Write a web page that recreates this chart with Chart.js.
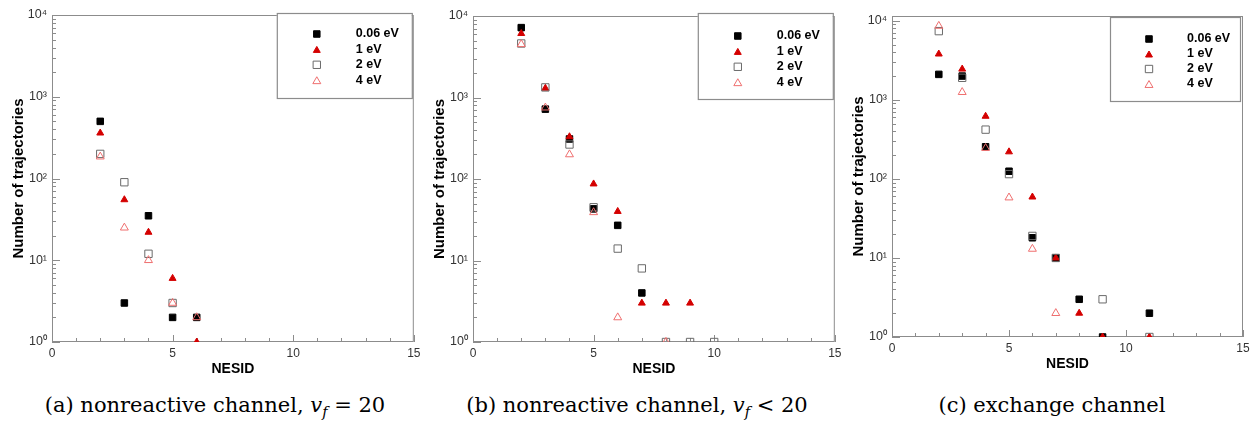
<!DOCTYPE html>
<html lang="en">
<head>
    <meta charset="UTF-8">
    <title>NESID distributions</title>
    <script src="https://cdn.jsdelivr.net/npm/chart.js"></script>
    <style>
        body { margin: 0; background: #fff; width: 1256px; height: 422px; position: relative; overflow: hidden; }
        .panel { position: absolute; top: 0; }
        .caption {
            position: absolute; top: 394px; width: 460px; text-align: center;
            font-family: "DejaVu Serif", serif; font-size: 21px; line-height: 22px; color: #000;
            white-space: nowrap;
        }
        .caption sub { font-size: 14.5px; line-height: 0; }
    </style>
</head>
<body>
    <div class="panel" style="left:0px"><canvas id="chartA" width="420" height="380"></canvas></div>
    <div class="panel" style="left:421px"><canvas id="chartB" width="420" height="380"></canvas></div>
    <div class="panel" style="left:840px"><canvas id="chartC" width="416" height="375"></canvas></div>

    <div class="caption" style="left:-15px">(a) nonreactive channel, <i>v</i><sub><i>f</i></sub> = 20</div>
    <div class="caption" style="left:407px">(b) nonreactive channel, <i>v</i><sub><i>f</i></sub> &lt; 20</div>
    <div class="caption" style="left:822px">(c) exchange channel</div>

    <script>
        // series labels (collision energies)
        const energyLabels = ["0.06 eV", "1 eV", "2 eV", "4 eV"];

        // axis ticks
        const xTickValues = [0, 5, 10, 15];
        const yTickValues = [1, 10, 100, 1000, 10000];
        const yTickText = ["10\u2070", "10\u00b9", "10\u00b2", "10\u00b3", "10\u2074"];

        // (a) nonreactive channel, vf = 20
        const aX006 = [2, 3, 4, 5, 6];
        const aY006 = [500, 3, 35, 2, 2];
        const aX1 = [2, 3, 4, 5, 6];
        const aY1 = [360, 55, 22, 6, 1];
        const aX2 = [2, 3, 4, 5];
        const aY2 = [200, 90, 12, 3];
        const aX4 = [2, 3, 4, 5, 6];
        const aY4 = [185, 25, 10, 3, 2];

        // (b) nonreactive channel, vf < 20
        const bX006 = [2, 3, 4, 5, 6, 7];
        const bY006 = [7200, 720, 310, 43, 27, 4];
        const bX1 = [2, 3, 4, 5, 6, 7, 8, 9];
        const bY1 = [6100, 1300, 330, 87, 40, 3, 3, 3];
        const bX2 = [2, 3, 4, 5, 6, 7, 8, 9, 10];
        const bY2 = [4600, 1330, 265, 45, 14, 8, 1, 1, 1];
        const bX4 = [2, 3, 4, 5, 6, 8];
        const bY4 = [4500, 750, 200, 39, 2, 1];

        // (c) exchange channel
        const cX006 = [2, 3, 4, 5, 6, 7, 8, 9, 11];
        const cY006 = [2100, 2000, 255, 125, 18, 10, 3, 1, 2];
        const cX1 = [2, 3, 4, 5, 6, 7, 8, 9, 11];
        const cY1 = [3800, 2450, 620, 220, 59, 10, 2, 1, 1];
        const cX2 = [2, 3, 4, 5, 6, 7, 9, 11];
        const cY2 = [7400, 1900, 420, 115, 19, 10, 3, 1];
        const cX4 = [2, 3, 4, 5, 6, 7];
        const cY4 = [8600, 1250, 245, 58, 13, 2];

        const FONT = "'Liberation Sans', Arial, sans-serif";

        // marker look for each energy
        const markers = [
            { pointStyle: "rect", pointRadius: 4.6, backgroundColor: "#000000", borderColor: "#000000", borderWidth: 1, order: 3 },
            { pointStyle: "triangle", pointRadius: 4.0, backgroundColor: "#d40000", borderColor: "#d40000", borderWidth: 1, order: 2 },
            { pointStyle: "rect", pointRadius: 5.2, backgroundColor: "rgba(0,0,0,0)", borderColor: "#6a6a6a", borderWidth: 1, order: 1 },
            { pointStyle: "triangle", pointRadius: 4.6, backgroundColor: "rgba(0,0,0,0)", borderColor: "#ef6f6f", borderWidth: 1, order: 0 }
        ];

        function pairs(xs, ys) {
            return xs.map((x, i) => ({ x: x, y: ys[i] }));
        }

        // frame with inward tick marks, drawn from the scales
        const framePlugin = {
            id: "frame",
            beforeDatasetsDraw(chart) {
                const { ctx, chartArea: a, scales: { x, y } } = chart;
                ctx.save();
                ctx.strokeStyle = "#8c8c8c";
                ctx.lineWidth = 1;
                ctx.strokeRect(a.left + 0.5, a.top + 0.5, a.right - a.left - 1, a.bottom - a.top - 1);
                ctx.beginPath();
                for (let v = x.min; v <= x.max; v++) {
                    const px = Math.round(x.getPixelForValue(v)) + 0.5;
                    const len = v % 5 === 0 ? 7 : 4;
                    ctx.moveTo(px, a.bottom);
                    ctx.lineTo(px, a.bottom - len);
                }
                for (let d = 1; d <= y.max; d *= 10) {
                    for (let m = 1; m < 10; m++) {
                        const v = d * m;
                        if (v > y.max) break;
                        const py = Math.round(y.getPixelForValue(v)) + 0.5;
                        const len = m === 1 ? 8 : 4;
                        ctx.moveTo(a.left, py);
                        ctx.lineTo(a.left + len, py);
                    }
                }
                ctx.stroke();
                ctx.restore();
            }
        };

        // boxed legend in the upper right corner
        const boxLegendPlugin = {
            id: "boxLegend",
            afterDraw(chart, args, opts) {
                const { ctx, chartArea: a } = chart;
                const left = a.right - opts.dx - opts.w;
                const top = a.top + opts.dy;
                ctx.save();
                ctx.strokeStyle = "#8c8c8c";
                ctx.lineWidth = 1.2;
                ctx.fillStyle = "#ffffff";
                ctx.fillRect(left, top, opts.w, opts.h);
                ctx.strokeRect(left + 0.5, top + 0.5, opts.w, opts.h);
                ctx.font = "bold 12.5px " + FONT;
                ctx.textBaseline = "middle";
                chart.data.datasets.forEach((ds, i) => {
                    const yy = top + opts.row0 + i * opts.rowGap;
                    ctx.fillStyle = ds.backgroundColor;
                    ctx.strokeStyle = ds.borderColor;
                    ctx.lineWidth = ds.borderWidth;
                    const r = ds.pointRadius;
                    const off = ds.pointStyle === "triangle" ? r / 4 : 0;
                    Chart.helpers.drawPoint(ctx, { pointStyle: ds.pointStyle, radius: r, rotation: 0, borderWidth: ds.borderWidth }, left + opts.markX, yy + off);
                    ctx.fillStyle = "#000000";
                    ctx.fillText(ds.label, left + opts.textX, yy);
                });
                ctx.restore();
            }
        };

        function makeChart(id, series, pad, yMax, legendBox) {
            const datasets = series.map((s, i) => Object.assign({
                label: energyLabels[i],
                data: pairs(s[0], s[1])
            }, markers[i]));

            return new Chart(document.getElementById(id), {
                type: "scatter",
                data: { datasets: datasets },
                options: {
                    responsive: false,
                    animation: false,
                    devicePixelRatio: 1,
                    layout: { padding: pad },
                    plugins: {
                        legend: { display: false },
                        tooltip: { enabled: false },
                        boxLegend: legendBox
                    },
                    scales: {
                        x: {
                            type: "linear",
                            min: 0,
                            max: 15,
                            grid: { display: false, drawTicks: false },
                            border: { display: false },
                            afterBuildTicks: s => { s.ticks = xTickValues.map(v => ({ value: v })); },
                            afterFit: s => { s.height = 38; s.paddingLeft = 0; s.paddingRight = 0; },
                            ticks: { color: "#333", padding: 4, maxRotation: 0, font: { family: FONT, size: 12 } },
                            title: { display: true, text: "NESID", color: "#000", padding: { top: 0, bottom: 2 }, font: { family: FONT, size: 14, weight: "bold" } }
                        },
                        y: {
                            type: "logarithmic",
                            min: 1,
                            max: yMax,
                            grid: { display: false, drawTicks: false },
                            border: { display: false },
                            afterBuildTicks: s => { s.ticks = yTickValues.map(v => ({ value: v })); },
                            afterFit: s => { s.width = 52; s.paddingTop = 0; s.paddingBottom = 0; },
                            ticks: {
                                color: "#333", padding: 5, font: { family: FONT, size: 12.5 },
                                callback: v => yTickText[yTickValues.indexOf(v)]
                            },
                            title: { display: true, text: "Number of trajectories", color: "#000", padding: { top: 10, bottom: 0 }, font: { family: FONT, size: 15, weight: "bold" } }
                        }
                    }
                },
                plugins: [framePlugin, boxLegendPlugin]
            });
        }

        makeChart("chartA",
            [[aX006, aY006], [aX1, aY1], [aX2, aY2], [aX4, aY4]],
            { top: 15, right: 6, bottom: 0, left: 0 }, 10000,
            { w: 135, h: 85, dx: 2, dy: -2, markX: 40, textX: 79, row0: 21, rowGap: 15.4 });

        makeChart("chartB",
            [[bX006, bY006], [bX1, bY1], [bX2, bY2], [bX4, bY4]],
            { top: 16, right: 6, bottom: 0, left: 0 }, 10000,
            { w: 135, h: 86, dx: 2, dy: -3, markX: 40, textX: 79, row0: 23, rowGap: 15.4 });

        makeChart("chartC",
            [[cX006, cY006], [cX1, cY1], [cX2, cY2], [cX4, cY4]],
            { top: 16, right: 13, bottom: 0, left: 0 }, 11500,
            { w: 130, h: 84, dx: 3, dy: 1, markX: 39, textX: 77, row0: 22, rowGap: 15 });
    </script>
</body>
</html>
